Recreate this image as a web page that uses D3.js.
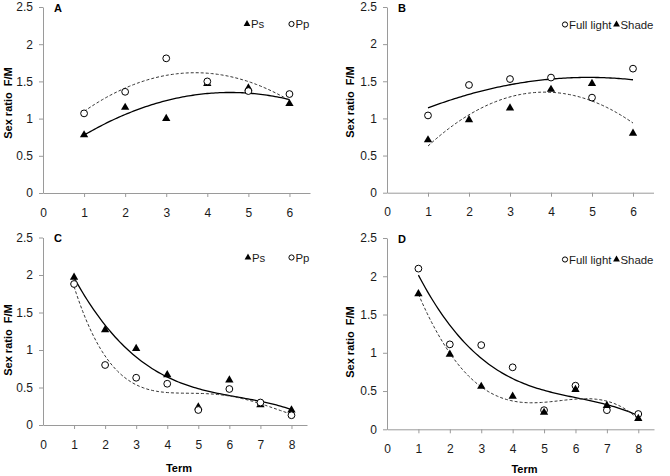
<!DOCTYPE html>
<html><head><meta charset="utf-8">
<script src="https://cdn.jsdelivr.net/npm/d3@7"></script>
<style>
html,body{margin:0;padding:0;background:#fff;}
svg text{font-family:"Liberation Sans",Arial,sans-serif;}
</style></head>
<body>
<svg id="chart" width="670" height="476"></svg>
<script>
// ---------- data ----------
const termsAB = [1, 2, 3, 4, 5, 6];
const termsCD = [1, 2, 3, 4, 5, 6, 7, 8];
const yTicks = [0, 0.5, 1, 1.5, 2, 2.5];
const yTickLabels = ["0", "0.5", "1", "1.5", "2", "2.5"];
const xTicksAB = [0, 1, 2, 3, 4, 5, 6];
const xTicksCD = [0, 1, 2, 3, 4, 5, 6, 7, 8];

const aPs = [0.78, 1.15, 1.00, 1.47, 1.41, 1.20];
const aPp = [1.07, 1.36, 1.81, 1.50, 1.37, 1.33];
const bFull = [1.04, 1.45, 1.53, 1.55, 1.28, 1.67];
const bShade = [0.71, 0.98, 1.14, 1.39, 1.47, 0.80];
const cPs = [1.97, 1.27, 1.02, 0.67, 0.24, 0.60, 0.27, 0.20];
const cPp = [1.88, 0.80, 0.63, 0.55, 0.20, 0.48, 0.30, 0.13];
const dFull = [2.10, 1.11, 1.10, 0.81, 0.25, 0.57, 0.25, 0.20];
const dShade = [1.77, 0.98, 0.56, 0.43, 0.22, 0.52, 0.31, 0.14];

const panelLetters = ["A", "B", "C", "D"];
const yTitle = "Sex ratio  F/M";
const xTitle = "Term";

// ---------- helpers ----------
function polyfit(xs, ys, order) {
  const n = order + 1;
  const A = Array.from({length: n}, () => new Array(n + 1).fill(0));
  for (let i = 0; i < xs.length; i++) {
    for (let r = 0; r < n; r++) {
      for (let c = 0; c < n; c++) A[r][c] += Math.pow(xs[i], r + c);
      A[r][n] += ys[i] * Math.pow(xs[i], r);
    }
  }
  for (let i = 0; i < n; i++) {
    let p = i;
    for (let k = i + 1; k < n; k++) if (Math.abs(A[k][i]) > Math.abs(A[p][i])) p = k;
    [A[i], A[p]] = [A[p], A[i]];
    for (let k = i + 1; k < n; k++) {
      const f = A[k][i] / A[i][i];
      for (let c = i; c <= n; c++) A[k][c] -= f * A[i][c];
    }
  }
  const coef = new Array(n).fill(0);
  for (let i = n - 1; i >= 0; i--) {
    let s = A[i][n];
    for (let c = i + 1; c < n; c++) s -= A[i][c] * coef[c];
    coef[i] = s / A[i][i];
  }
  return x => coef.reduce((s, c, i) => s + c * Math.pow(x, i), 0);
}

const panels = [
  {letter: panelLetters[0], xs: termsAB, xTicks: xTicksAB, xMax: 6.5, x0: 43, x1: 310, yTop: 7, yBot: 193,
   series: [
     {name: "Ps", vals: aPs, marker: "tri", dash: null, order: 2},
     {name: "Pp", vals: aPp, marker: "circ", dash: "3,2", order: 2}],
   legend: [{i: 0, x: 247}, {i: 1, x: 291.5}], legY: 24, titleY: 103, titleX: 12, xTitleY: null},
  {letter: panelLetters[1], xs: termsAB, xTicks: xTicksAB, xMax: 6.5, x0: 387, x1: 653.5, yTop: 7, yBot: 192.7,
   series: [
     {name: "Full light", vals: bFull, marker: "circ", dash: null, order: 2},
     {name: "Shade", vals: bShade, marker: "tri", dash: "3,2", order: 2}],
   legend: [{i: 0, x: 565}, {i: 1, x: 616.5}], legY: 24.5, titleY: 102, titleX: 354, xTitleY: null},
  {letter: panelLetters[2], xs: termsCD, xTicks: xTicksCD, xMax: 8.5, x0: 43, x1: 307, yTop: 237.5, yBot: 425,
   series: [
     {name: "Ps", vals: cPs, marker: "tri", dash: null, order: 3},
     {name: "Pp", vals: cPp, marker: "circ", dash: "3,2", order: 4}],
   legend: [{i: 0, x: 248}, {i: 1, x: 291.5}], legY: 257.5, titleY: 340, titleX: 12, xTitleY: 471.5},
  {letter: panelLetters[3], xs: termsCD, xTicks: xTicksCD, xMax: 8.5, x0: 387, x1: 654, yTop: 238, yBot: 429.3,
   series: [
     {name: "Full light", vals: dFull, marker: "circ", dash: null, order: 3},
     {name: "Shade", vals: dShade, marker: "tri", dash: "3,2", order: 4}],
   legend: [{i: 0, x: 565}, {i: 1, x: 616.5}], legY: 259.5, titleY: 342, titleX: 354, xTitleY: 472.5}
];

const svg = d3.select("#chart");
const axisColor = "#9a9a9a";
const triPath = d3.symbol().type(d3.symbolTriangle);

function drawMarker(g, type, x, y, big) {
  if (type === "tri") {
    g.append("path").attr("d", triPath.size(big ? 30 : 20)())
      .attr("transform", `translate(${x},${y})`).attr("fill", "#000");
  } else {
    g.append("circle").attr("cx", x).attr("cy", y).attr("r", big ? 3.4 : 2.6)
      .attr("fill", "#fff").attr("stroke", "#000").attr("stroke-width", 1);
  }
}

panels.forEach(p => {
  const x = d3.scaleLinear().domain([0, p.xMax]).range([p.x0, p.x1]);
  const y = d3.scaleLinear().domain([0, 2.5]).range([p.yBot, p.yTop]);
  const g = svg.append("g");

  const yAxis = g.append("g").attr("transform", `translate(${p.x0},0)`)
    .call(d3.axisLeft(y).tickValues(yTicks).tickFormat((d, i) => yTickLabels[i]).tickSize(4).tickPadding(6).tickSizeOuter(0));
  const xAxis = g.append("g").attr("transform", `translate(0,${p.yBot})`)
    .call(d3.axisBottom(x).tickValues(p.xTicks).tickFormat(d3.format("d")).tickSize(4).tickPadding(11).tickSizeOuter(0));
  [yAxis, xAxis].forEach(a => {
    a.selectAll("path,line").attr("stroke", axisColor);
    a.selectAll("text").attr("font-size", 12).attr("fill", "#1a1a1a")
      .attr("font-family", "'Liberation Sans', Arial, sans-serif");
  });
  xAxis.selectAll(".tick").filter(d => d === 0).select("line").remove();

  // trend lines
  p.series.forEach(s => {
    const f = polyfit(p.xs, s.vals, s.order);
    const pts = d3.range(0, 101).map(k => {
      const xv = p.xs[0] + (p.xs[p.xs.length - 1] - p.xs[0]) * k / 100;
      return [xv, f(xv)];
    });
    g.append("path").datum(pts)
      .attr("d", d3.line().x(d => x(d[0])).y(d => y(d[1])).curve(d3.curveLinear))
      .attr("fill", "none").attr("stroke", s.dash ? "#333" : "#000")
      .attr("stroke-width", s.dash ? 1 : 1.3)
      .attr("stroke-dasharray", s.dash);
  });

  // markers
  p.series.forEach(s => {
    s.vals.forEach((v, i) => drawMarker(g, s.marker, x(p.xs[i]), y(v), true));
  });

  // legend
  p.legend.forEach(l => {
    const s = p.series[l.i];
    drawMarker(g, s.marker, l.x, p.legY, false);
    g.append("text").attr("x", l.x + 4).attr("y", p.legY + 4.2).attr("font-size", 11.4)
      .attr("fill", "#1a1a1a").text(s.name);
  });

  // panel letter
  g.append("text").attr("x", p.x0 + 11).attr("y", p.yTop + 4.5).attr("font-size", 11)
    .attr("font-weight", "bold").text(p.letter);

  // y title
  g.append("text").attr("transform", `translate(${p.titleX},${p.titleY}) rotate(-90)`)
    .attr("text-anchor", "middle").attr("font-size", 11).attr("font-weight", "bold")
    .attr("xml:space", "preserve").style("white-space", "pre").text(yTitle);

  if (p.xTitleY) {
    g.append("text").attr("x", (p.x0 + p.x1) / 2 + 4).attr("y", p.xTitleY)
      .attr("text-anchor", "middle").attr("font-size", 11).attr("font-weight", "bold").text(xTitle);
  }
});
</script>
</body></html>
